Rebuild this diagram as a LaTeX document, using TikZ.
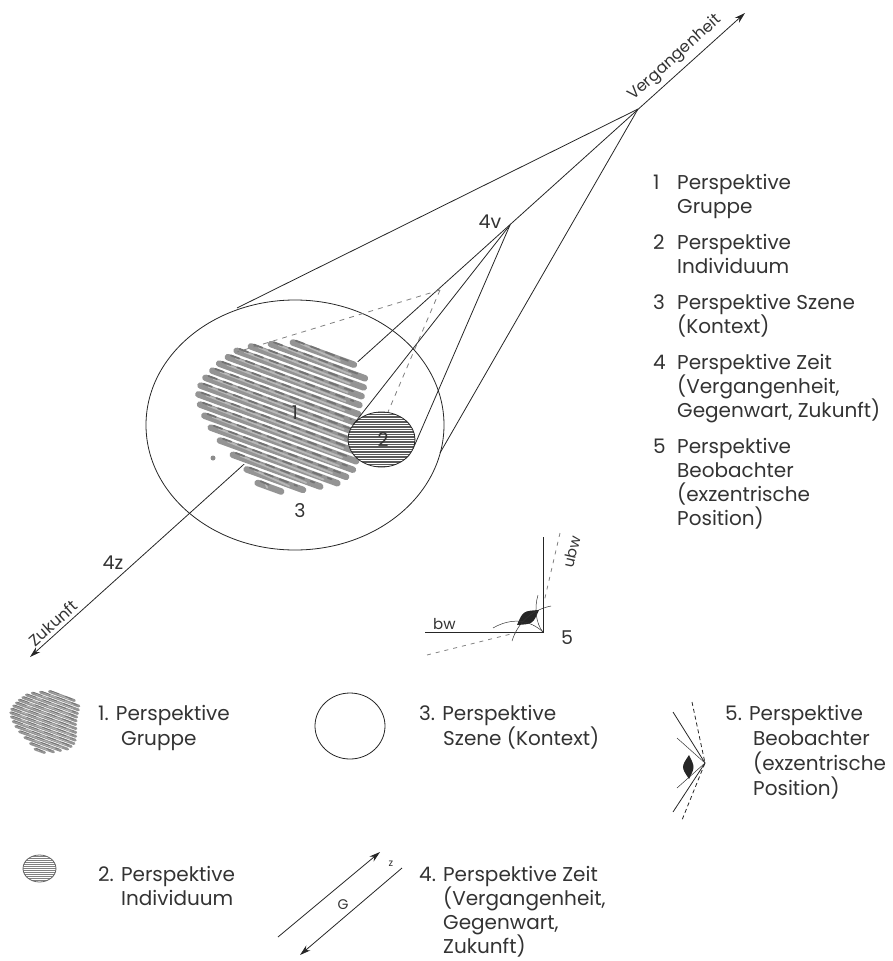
\documentclass[tikz,border=0pt]{standalone}
\usepackage{fontspec}
\setmainfont{Poppins}
\usetikzlibrary{arrows.meta,shapes.geometric}

\tikzset{
  ln/.style={draw=black!85, line width=0.8pt},
  thinln/.style={draw=black!80, line width=0.5pt},
  dsh/.style={draw=black!50, line width=0.8pt, dash pattern=on 5pt off 5pt},
  txt/.style={inner sep=0pt, anchor=base west, text=black!80, font=\fontsize{20}{24}\selectfont},
  lbl/.style={inner sep=0pt, text=black!80, font=\fontsize{19}{22}\selectfont},
  axlbl/.style={inner sep=0pt, text=black!80, font=\fontsize{16}{18}\selectfont, rotate=42},
  tipA/.tip={Stealth[length=11pt,width=6.5pt]},
  hatchell/.style={ellipse, draw=black!85, line width=0.8pt, fill=white, inner sep=0pt},
}

% group blob: cx, cy, scale, white width, gray width, light width
\newcommand\mygrpblob[6]{%
\begin{scope}[shift={(#1,#2)},scale=#3]
\foreach \k/\a/\b in {-8/-20/45,-7/-40/60,-6/-58/62,-5/-70/63,-4/-76/64,-3/-82/66,-2/-86/68,-1/-90/72,0/-92/75,1/-91/78,2/-86/80,3/-78/80,4/-68/76,5/-55/70,6/-38/55,7/-20/40,8/-5/20}{
  \pgfmathsetmacro\xa{\k*9*(-0.342)+\a*0.940}
  \pgfmathsetmacro\ya{\k*9*0.940+\a*0.342}
  \pgfmathsetmacro\xb{\k*9*(-0.342)+\b*0.940}
  \pgfmathsetmacro\yb{\k*9*0.940+\b*0.342}
  \draw[white, line width=#4, line cap=round] (\xa,\ya) -- (\xb,\yb);
}
\foreach \k/\a/\b in {-8/-20/45,-7/-40/60,-6/-58/62,-5/-70/63,-4/-76/64,-3/-82/66,-2/-86/68,-1/-90/72,0/-92/75,1/-91/78,2/-86/80,3/-78/80,4/-68/76,5/-55/70,6/-38/55,7/-20/40,8/-5/20}{
  \pgfmathsetmacro\xa{\k*9*(-0.342)+\a*0.940}
  \pgfmathsetmacro\ya{\k*9*0.940+\a*0.342}
  \pgfmathsetmacro\xb{\k*9*(-0.342)+\b*0.940}
  \pgfmathsetmacro\yb{\k*9*0.940+\b*0.342}
  \draw[black!42, line width=#5, line cap=round] (\xa,\ya) -- (\xb,\yb);
  \draw[black!28, line width=#6, line cap=round] (\xa+8,\ya+1.2) -- (\xb-14,\yb-3.8);
  \draw[black!55, line width=#6, line cap=round, dash pattern=on 9pt off 7pt] (\xa+3,\ya-1.8) -- (\xb-6,\yb-4);
}
\end{scope}}

\begin{document}
\begin{tikzpicture}[x=1pt,y=-1pt]
\useasboundingbox (0,0) rectangle (893,961);

% ---------- key points ----------
\coordinate (Zt) at (30,657);
\coordinate (Vt) at (745,13);
\coordinate (A) at (638,109);
\coordinate (B) at (510,225);
\coordinate (T1) at (237,308);
\coordinate (T2) at (440,453);
\coordinate (D) at (440,290);
\coordinate (D1) at (237,352);
\coordinate (D2) at (388,412);
\coordinate (E1) at (353.3,424.6);
\coordinate (E2) at (413.1,448.7);

% ---------- time axis ----------
\draw[ln, tipA-tipA] (Zt) -- (Vt);

% ---------- scene circle ----------
\node[ellipse, draw=black!85, line width=0.8pt, minimum width=298pt, minimum height=250pt, inner sep=0pt] (scene) at (295,425) {};

% cone from the past
\draw[ln] (A) -- (T1);
\draw[ln] (A) -- (T2);

% ---------- group ----------
\mygrpblob{287}{417}{1}{10pt}{6.5pt}{1.8pt}
\fill[black!45] (213,458) circle (2.5);

% dashed lines
\draw[dsh] (D) -- (D1);
\draw[dsh] (D) -- (D2);

% lines from 4v to the individual
\draw[ln] (B) -- (E1);
\draw[ln] (B) -- (E2);

% ---------- individual ----------
\node[hatchell, minimum width=67pt, minimum height=55pt,
  path picture={\foreach \i in {-12,...,12}{\draw[black!65, line width=1.3pt] ([xshift=-40pt,yshift=\i*2.5pt]path picture bounding box.center) -- ++(80pt,0);}}] (indiv) at (381.5,439.5) {};

% ---------- labels ----------
\node[lbl] (l1) at (295,413) {1};
\node[lbl] (l2) at (383,440) {2};
\node[lbl] (l3) at (300,511) {3};
\node[lbl] (l4v) at (490,222) {4v};
\node[lbl] (l4z) at (113,563) {4z};
\node[axlbl] (lvg) at (675,58) {Vergangenheit};
\node[axlbl] (lzk) at (53,623) {Zukunft};

% ---------- observer ----------
\coordinate (O) at (543,632);
\coordinate (Ov) at (543,537);
\coordinate (Oh) at (425,632);
\draw[ln] (Ov) -- (O) -- (Oh);
\coordinate (Ou1) at (560,533);
\coordinate (Ou2) at (544,602);
\coordinate (Ob1) at (427,655);
\coordinate (Ob2) at (515,633);
\draw[dsh, dash pattern=on 4pt off 5pt] (Ou1) -- (Ou2);
\draw[dsh, dash pattern=on 4pt off 5pt] (Ob1) -- (Ob2);
\fill[black!85] (517,625) .. controls (533,624) .. (539,610) .. controls (523,611) .. (517,625);
\draw[thinln] (493,628) .. controls (512,617) and (530,620) .. (O);
\draw[thinln] (512,641) .. controls (518,622) and (532,610) .. (551,606);
\draw[thinln] (538,595) .. controls (534,608) and (536,624) .. (O);
\node[inner sep=0pt, anchor=base west, text=black!80, font=\fontsize{15}{17}\selectfont] (lbw) at (433,629) {bw};
\node[inner sep=0pt, text=black!80, font=\fontsize{15}{17}\selectfont, rotate=77] (lubw) at (572,552) {ubw};
\node[lbl] (l5) at (567,638) {5};

% ---------- right list ----------
\node[txt] (r1n) at (653,189) {1};
\node[txt] (r1a) at (677,189) {Perspektive};
\node[txt] (r1b) at (677,213) {Gruppe};
\node[txt] (r2n) at (653,249) {2};
\node[txt] (r2a) at (677,249) {Perspektive};
\node[txt] (r2b) at (677,273) {Individuum};
\node[txt] (r3n) at (653,309) {3};
\node[txt] (r3a) at (677,309) {Perspektive Szene};
\node[txt] (r3b) at (677,333) {(Kontext)};
\node[txt] (r4n) at (653,369) {4};
\node[txt] (r4a) at (677,369) {Perspektive Zeit};
\node[txt] (r4b) at (677,393) {(Vergangenheit,};
\node[txt] (r4c) at (677,417) {Gegenwart, Zukunft)};
\node[txt] (r5n) at (653,453) {5};
\node[txt] (r5a) at (677,453) {Perspektive};
\node[txt] (r5b) at (677,477) {Beobachter};
\node[txt] (r5c) at (677,501) {(exzentrische};
\node[txt] (r5d) at (677,525) {Position)};

% ---------- legend ----------
\mygrpblob{47}{722}{0.41}{4pt}{2.8pt}{0.8pt}
\node[txt] (g1a) at (98,720) {1. Perspektive};
\node[txt] (g1b) at (121,745) {Gruppe};

\node[ellipse, draw=black!85, line width=0.8pt, minimum width=70pt, minimum height=66pt, inner sep=0pt] (g3s) at (350,726) {};
\node[txt] (g3a) at (419,720) {3. Perspektive};
\node[txt] (g3b) at (443,745) {Szene (Kontext)};

\coordinate (V5) at (705,763);
\draw[ln] (673,712) -- (V5) -- (673,812);
\draw[dsh, draw=black!85, dash pattern=on 4pt off 3pt] (692,702) -- (V5) -- (682,820);
\draw[thinln] (677,738) -- (V5) -- (677,788);
\fill[black!85] (689,755) .. controls (681,767) .. (689,779) .. controls (695,767) .. (689,755);
\node[txt] (g5a) at (725,720) {5. Perspektive};
\node[txt] (g5b) at (753,745) {Beobachter};
\node[txt] (g5c) at (753,770) {(exzentrische};
\node[txt] (g5d) at (753,795) {Position)};

\node[hatchell, minimum width=33pt, minimum height=27pt, draw=black!60,
  path picture={\foreach \i in {-7,...,7}{\draw[black!50, line width=0.9pt] ([xshift=-20pt,yshift=\i*2pt]path picture bounding box.center) -- ++(40pt,0);}}] (g2s) at (39.5,868.5) {};
\node[txt] (g2a) at (98,881) {2. Perspektive};
\node[txt] (g2b) at (121,905) {Individuum};

\coordinate (Ga1) at (278,937);
\coordinate (Ga2) at (380,852);
\coordinate (Gb1) at (402,868);
\coordinate (Gb2) at (300,955);
\draw[ln, -tipA] (Ga1) -- (Ga2);
\draw[ln, -tipA] (Gb1) -- (Gb2);
\node[inner sep=0pt, text=black!80, font=\fontsize{14}{16}\selectfont] (lG) at (343,905) {G};
\node[inner sep=0pt, text=black!80, font=\fontsize{10}{12}\selectfont] (lz) at (391,864) {z};
\node[txt] (g4a) at (419,881) {4. Perspektive Zeit};
\node[txt] (g4b) at (443,905) {(Vergangenheit,};
\node[txt] (g4c) at (443,929) {Gegenwart,};
\node[txt] (g4d) at (443,953) {Zukunft)};
\end{tikzpicture}
\end{document}
